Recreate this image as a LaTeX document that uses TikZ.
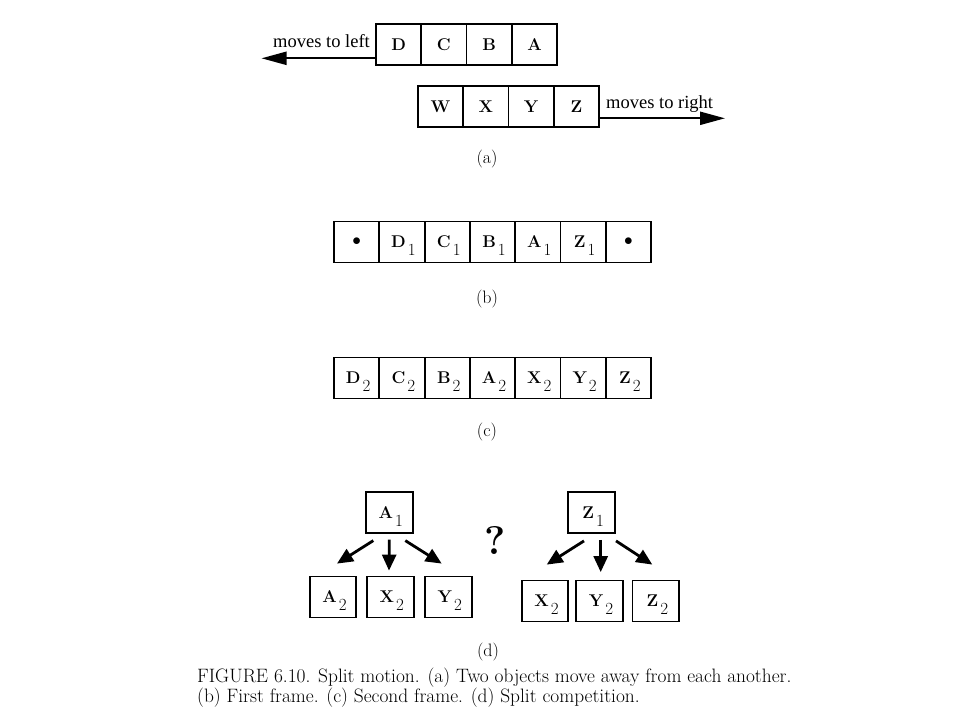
\documentclass[tikz,border=0pt]{standalone}
\usepackage{fontspec}
\newfontfamily\lblfont{Liberation Serif}
\usetikzlibrary{arrows.meta}
\tikzset{
  cell/.style={draw, line width=1.8pt, minimum width=45.3pt, minimum height=41pt, inner sep=0pt,
               font=\fontsize{17}{18}\selectfont\bfseries},
  dcell/.style={cell, minimum width=46.7pt},
  bigarrow/.style={line width=2.2pt, -{Triangle[length=25pt,width=13pt]}},
  darrow/.style={line width=2.8pt, -{Triangle[length=16pt,width=14pt]}},
  movelbl/.style={font=\lblfont\fontsize{18.5}{20}\selectfont, inner sep=0pt},
  sublbl/.style={font=\fontsize{18}{20}\selectfont, inner sep=0pt},
}
\newcommand{\sbx}[2]{\hspace{3pt}#1\hspace{2pt}\smash{\raisebox{-8pt}{\mdseries\fontsize{17}{17}\selectfont #2}}}
\begin{document}
\begin{tikzpicture}[x=1pt,y=-1pt]
\useasboundingbox (0,0) rectangle (960,720);
% (a)
\node[cell] (D) at (398.6,44.5) {D};
\node[cell] (C) at (443.9,44.5) {C};
\node[cell] (B) at (489.2,44.5) {B};
\node[cell] (A) at (534.5,44.5) {A};
\node[cell] (W) at (440.6,106.5) {W};
\node[cell] (X) at (485.9,106.5) {X};
\node[cell] (Y) at (531.2,106.5) {Y};
\node[cell] (Z) at (576.5,106.5) {Z};
\coordinate (lefttip) at (261.5,58.3);
\coordinate (righttip) at (725,118.3);
\draw[bigarrow] (D.west |- lefttip) -- (lefttip);
\draw[bigarrow] (Z.east |- righttip) -- (righttip);
\node[movelbl, anchor=base east] (ml) at (370,47.5) {moves to left};
\node[movelbl, anchor=base west] (mr) at (606,108) {moves to right};
\node[sublbl] (la) at (487,159) {(a)};
% (b)
\foreach \t [count=\i] in {$\bullet$,\sbx{D}{1},\sbx{C}{1},\sbx{B}{1},\sbx{A}{1},\sbx{Z}{1},$\bullet$}{
  \node[cell] (b\i) at ({334+22.65+45.3*(\i-1)},242) {\t};
}
\node[sublbl] (lb) at (487,299) {(b)};
% (c)
\foreach \t [count=\i] in {\sbx{D}{2},\sbx{C}{2},\sbx{B}{2},\sbx{A}{2},\sbx{X}{2},\sbx{Y}{2},\sbx{Z}{2}}{
  \node[cell] (c\i) at ({334+22.65+45.3*(\i-1)},378) {\t};
}
\node[sublbl] (lc) at (487,432) {(c)};
% (d)
\node[dcell] (A1) at (389.3,512.2) {\sbx{A}{1}};
\node[dcell] (A2) at (333,597) {\sbx{A}{2}};
\node[dcell] (X2l) at (390.3,597) {\sbx{X}{2}};
\node[dcell] (Y2l) at (448.3,597) {\sbx{Y}{2}};
\node[dcell] (Z1) at (591.7,512.5) {\sbx{Z}{1}};
\node[dcell] (X2r) at (545,601) {\sbx{X}{2}};
\node[dcell] (Y2r) at (599.5,601) {\sbx{Y}{2}};
\node[dcell] (Z2) at (655.8,601) {\sbx{Z}{2}};
\draw[darrow] ([xshift=-16pt,yshift=-7pt]A1.south) -- ([xshift=4pt,yshift=12pt]A2.north);
\draw[darrow] ([yshift=-6pt]A1.south) -- ([xshift=-1.3pt,yshift=5pt]X2l.north);
\draw[darrow] ([xshift=16pt,yshift=-7pt]A1.south) -- ([xshift=-6.6pt,yshift=12pt]Y2l.north);
\draw[darrow] ([xshift=-7.7pt,yshift=-7pt]Z1.south) -- ([xshift=1.7pt,yshift=15pt]X2r.north);
\draw[darrow] ([xshift=9pt,yshift=-6pt]Z1.south) -- ([xshift=1.2pt,yshift=7.5pt]Y2r.north);
\draw[darrow] ([xshift=24.3pt,yshift=-7pt]Z1.south) -- ([xshift=-3.5pt,yshift=15pt]Z2.north);
\node[font=\fontsize{40}{40}\selectfont\bfseries, inner sep=0pt] (q) at (495,540) {?};
\node[sublbl] (ld) at (488,651.5) {(d)};
% caption
\node[anchor=north west, inner sep=0pt, align=left, font=\fontsize{19.4}{20}\selectfont] (cap) at (197,668)
  {FIGURE 6.10. Split motion. (a) Two objects move away from each another.\\
   (b) First frame. (c) Second frame. (d) Split competition.};
\end{tikzpicture}
\end{document}
